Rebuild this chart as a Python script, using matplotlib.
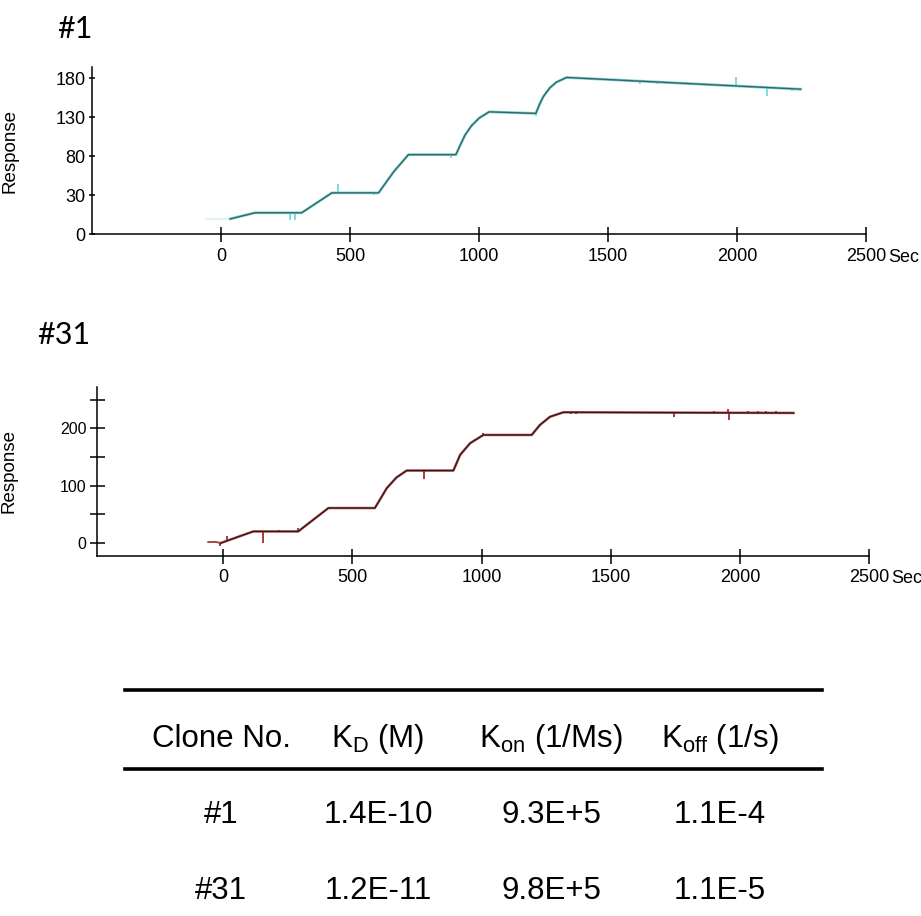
import matplotlib.pyplot as plt

plt.rcParams['font.family'] = ['Liberation Sans', 'DejaVu Sans']
plt.rcParams['mathtext.fontset'] = 'custom'
plt.rcParams['mathtext.rm'] = 'Liberation Sans'
plt.rcParams['mathtext.it'] = 'Liberation Sans:italic'

# clone #1 sensorgram (fit trace)
c1_t = [35, 131, 312, 429, 610, 668, 726, 910, 925, 945, 970, 1000, 1039,
        1220, 1235, 1250, 1275, 1300, 1339, 2247]
c1_fit = [0, 7.8, 7.8, 33.3, 33.3, 60, 82.2, 82.2, 93, 107, 119, 129, 137,
          135, 147, 157, 168, 175, 181, 166]
c1_base_t = [-60, 35]
c1_base = [0, 0]
# raw-data spikes: time, baseline, tip
c1_spk_t = [267, 286, 451, 594, 892, 1220, 1340, 1623, 1690, 1996, 2118, 2215]
c1_spk_lo = [7.8, 7.8, 33.3, 33.3, 82.2, 135, 181, 176.3, 175.2, 170.2, 168.2, 166.6]
c1_spk_hi = [-2, -1, 44, 30, 78, 132, 183.5, 173, 173, 182, 157, 164]

# clone #31 sensorgram
c31_raw_t = [-58, -30, -10]
c31_raw = [1.7, 2, 0]
c31_t = [-10, 116, 290, 407, 587, 633, 670, 710, 891, 917, 956, 1007,
         1194, 1226, 1265, 1317, 2208]
c31_fit = [0, 20.2, 20.2, 61, 61, 95.6, 114, 126.3, 126.3, 153.6, 174, 188.3,
           188.3, 205.7, 220, 227.8, 226.6]
c31_spk_t = [-12, 13, 155, 215, 290, 777, 1007, 1345, 1365, 1747, 1900,
             1955, 1960, 2030, 2070, 2100, 2140]
c31_spk_lo = [0, 3, 20.2, 20.2, 20.2, 126.3, 188.3, 227.7, 227.6, 227.1, 226.9,
              226.8, 226.8, 226.7, 226.7, 226.6, 226.6]
c31_spk_hi = [-6, 12, 0, 23, 26, 111, 192, 224, 224, 219, 230,
              233, 214, 230, 230, 230, 230]

x_ticks = [0, 500, 1000, 1500, 2000, 2500]
y1_ticks = [-20, 30, 80, 130, 180]
y1_labels = ['0', '30', '80', '130', '180']
y2_ticks = [0, 50, 100, 150, 200, 250]
y2_labels = ['0', '', '100', '', '200', '']

columns = ['Clone No.', r'K$_{\mathrm{D}}$ (M)', r'K$_{\mathrm{on}}$ (1/Ms)',
           r'K$_{\mathrm{off}}$ (1/s)']
clones = ['#1', '#31']
kd = ['1.4E-10', '1.2E-11']
kon = ['9.3E+5', '9.8E+5']
koff = ['1.1E-4', '1.1E-5']

fig = plt.figure(figsize=(9.21, 9.16), dpi=100)
ax1 = fig.add_axes([0.1002, 0.744, 0.840, 0.1832])
ax2 = fig.add_axes([0.1056, 0.393, 0.8379, 0.1848])


def style(ax, ylen, ylab_size):
	for s in ['top', 'right']:
		ax.spines[s].set_visible(False)
	for s in ['left', 'bottom']:
		ax.spines[s].set_linewidth(1.1)
	ax.tick_params(axis='x', direction='inout', length=10.8, width=1.1,
				   labelsize=13, pad=4)
	ax.tick_params(axis='y', direction='inout', length=ylen, width=1.1,
				   labelsize=ylab_size, pad=2.5)
	ax.set_xticks(x_ticks)
	ax.set_ylabel('Response', fontsize=13.5)
	ax.annotate('Sec', xy=(2500, 0), xycoords=('data', 'axes fraction'),
				xytext=(16, -16.5), textcoords='offset points',
				fontsize=13, va='center', ha='left')


# top panel
ax1.plot(c1_base_t, c1_base, color='#e2f1f1', lw=1.5)
ax1.plot(c1_t, c1_fit, color='#72dada', lw=2.0)
ax1.vlines(c1_spk_t, c1_spk_lo, c1_spk_hi, color='#72dada', lw=1.3)
ax1.plot(c1_t, c1_fit, color='#3f6262', lw=1.0)
ax1.set_xlim(-500, 2500)
ax1.set_ylim(-20, 194.8)
ax1.set_yticks(y1_ticks)
ax1.set_yticklabels(y1_labels)
style(ax1, 5, 13)
ax1.yaxis.set_label_coords(-0.096, 0.5)

# bottom panel
ax2.plot(c31_raw_t, c31_raw, color='#b04040', lw=1.4)
ax2.plot(c31_t, c31_fit, color='#b84a4a', lw=1.8)
ax2.vlines(c31_spk_t, c31_spk_lo, c31_spk_hi, color='#a52a2a', lw=1.3)
ax2.plot(c31_t, c31_fit, color='#2a1c1c', lw=0.9)
ax2.set_xlim(-488, 2500)
ax2.set_ylim(-22.6, 272.3)
ax2.set_yticks(y2_ticks)
ax2.set_yticklabels(y2_labels)
style(ax2, 10.8, 11.5)
ax2.yaxis.set_label_coords(-0.103, 0.5)

fig.text(57 / 921, 1 - 29 / 916, '#1', family='Lato', fontsize=22, va='center')
fig.text(37 / 921, 1 - 335 / 916, '#31', family='Lato', fontsize=22, va='center')

# kinetics table
W, H = 921, 916
for yy in [690, 769]:
	fig.add_artist(plt.Line2D([125 / W, 822 / W], [1 - yy / H, 1 - yy / H],
							  color='black', lw=2.6))
col_x = [221, 378, 551, 720]
fs = 22.5
for cx, txt in zip(col_x, columns):
	fig.text(cx / W, 1 - 747 / H, txt, fontsize=fs, ha='center', va='baseline')
for ry, row in zip([823, 899], zip(clones, kd, kon, koff)):
	for cx, txt in zip(col_x, row):
		fig.text(cx / W, 1 - ry / H, txt, fontsize=fs, ha='center', va='baseline')

fig.savefig('out.png', dpi=100)
